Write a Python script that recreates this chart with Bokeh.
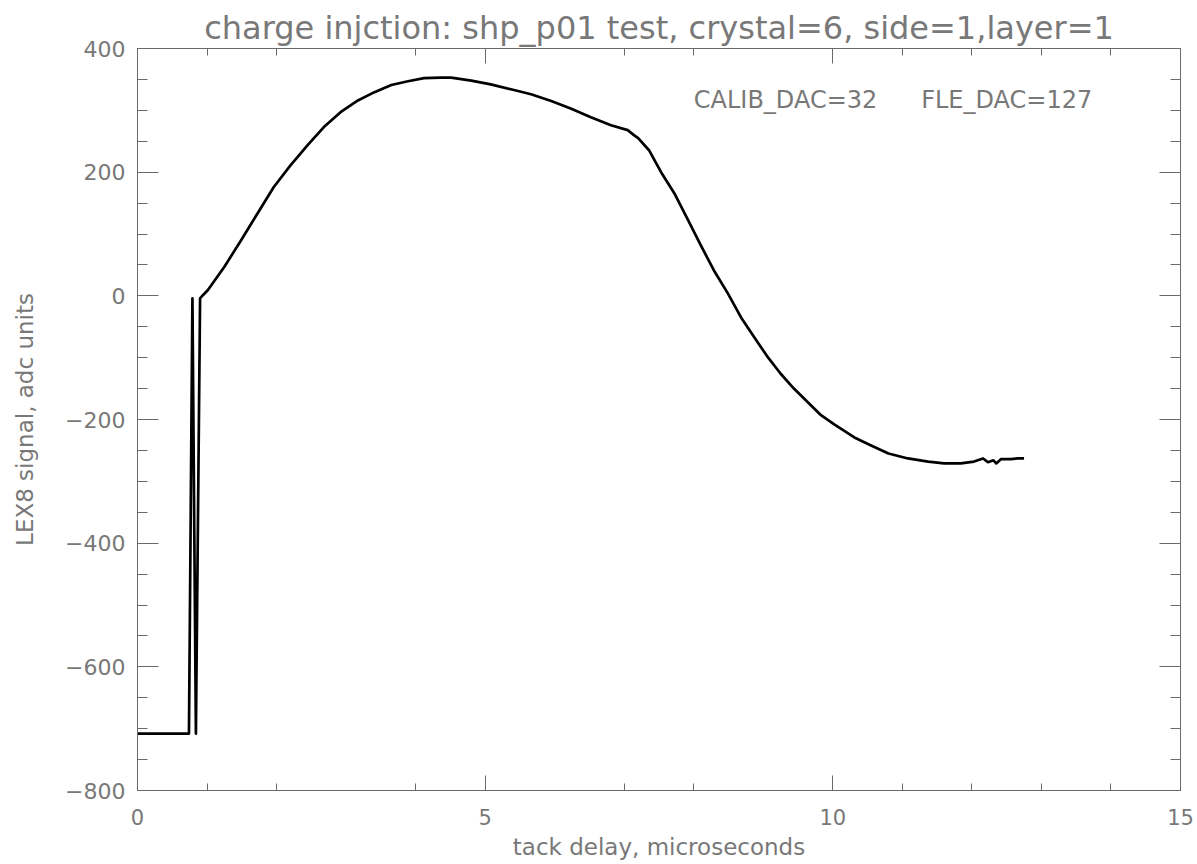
from bokeh.plotting import figure
from bokeh.models import Range1d, FixedTicker, LinearAxis, Label, CustomJSTickFormatter
from bokeh.embed import file_html
from bokeh.resources import INLINE

# ---- text ----
title_text = "charge injction: shp_p01 test, crystal=6, side=1,layer=1"
x_label = "tack delay, microseconds"
y_label = "LEX8 signal, adc units"
annot_calib = "CALIB_DAC=32"
annot_fle = "FLE_DAC=127"

# ---- data ----
delay_us = [0.00, 0.74, 0.79, 0.84, 0.90, 0.94, 1.01, 1.25, 1.49, 1.73, 1.96, 2.20,
            2.45, 2.68, 2.92, 3.17, 3.40, 3.65, 3.89, 4.12, 4.36, 4.51, 4.80, 5.08,
            5.37, 5.66, 5.95, 6.23, 6.52, 6.81, 7.05, 7.14, 7.20, 7.36, 7.53, 7.72,
            7.92, 8.10, 8.29, 8.49, 8.68, 8.87, 9.07, 9.25, 9.44, 9.64, 9.83, 10.02,
            10.31, 10.55, 10.80, 11.08, 11.37, 11.60, 11.84, 12.03, 12.16, 12.23,
            12.31, 12.35, 12.42, 12.56, 12.66, 12.75]
signal_adc = [-708, -708, -4, -708, -4, 1, 9, 47, 90, 134, 176, 211,
              244, 273, 297, 316, 329, 341, 347, 352, 353, 353, 348, 342,
              334, 326, 315, 303, 289, 276, 268, 260, 255, 235, 200, 166,
              122, 82, 41, 4, -35, -67, -100, -126, -150, -172, -193, -208,
              -229, -242, -255, -263, -268, -271, -271, -268, -263, -269,
              -266, -271, -264, -264, -263, -263]

x_major = [0, 5, 10, 15]
x_minor = [1, 2, 4, 7, 8, 11, 12, 13, 14]
y_major = [-800, -600, -400, -200, 0, 200, 400]
y_minor = [-750, -700, -650, -550, -500, -450, -350, -300, -250,
           -150, -100, -50, 50, 100, 150, 250, 300, 350]

FONT = "DejaVu Sans"
TXT = "#787878"
AX = "#6a6a6a"

p = figure(frame_width=1043, frame_height=742, output_backend="svg", toolbar_location=None,
           x_range=Range1d(0, 15), y_range=Range1d(-800, 400),
           min_border_left=137, min_border_right=14, min_border_top=48,
           min_border_bottom=60, background_fill_color="white",
           border_fill_color="white")

p.title.text = title_text
p.title.text_font = FONT
p.title.text_font_size = "32px"
p.title.text_font_style = "normal"
p.title.text_color = TXT
p.title.align = "center"
p.title.vertical_align = "top"
p.title.standoff = 0

p.outline_line_color = AX
p.outline_line_width = 1
p.xgrid.visible = False
p.ygrid.visible = False

def style_axis(ax, ticks, minor, tin, min_in):
    ax.ticker = FixedTicker(ticks=ticks, minor_ticks=minor)
    ax.axis_line_color = AX
    ax.major_tick_line_color = AX
    ax.minor_tick_line_color = AX
    ax.major_tick_in = tin
    ax.major_tick_out = 0
    ax.minor_tick_in = min_in
    ax.minor_tick_out = 0
    ax.major_label_text_font = FONT
    ax.major_label_text_color = TXT
    ax.axis_label_text_font = FONT
    ax.axis_label_text_color = TXT
    ax.axis_label_text_font_style = "normal"

xa = p.xaxis[0]
style_axis(xa, x_major, x_minor, 15, 7)
xa.major_label_text_font_size = "21px"
xa.major_label_standoff = 18
xa.axis_label = x_label
xa.axis_label_text_font_size = "23px"
xa.axis_label_standoff = 6

ya = p.yaxis[0]
style_axis(ya, y_major, y_minor, 21, 10)
ya.major_label_text_font_size = "22px"
ya.major_label_standoff = 12
ya.axis_label = y_label
ya.axis_label_text_font_size = "23px"
ya.axis_label_standoff = 24

blank = "return ''"
top = LinearAxis()
style_axis(top, x_major, x_minor, 15, 7)
top.formatter = CustomJSTickFormatter(code=blank)
top.major_label_text_font_size = "0px"
top.major_label_standoff = 0
p.add_layout(top, "above")

right = LinearAxis()
style_axis(right, y_major, y_minor, 21, 10)
right.formatter = CustomJSTickFormatter(code=blank)
right.major_label_text_font_size = "0px"
right.major_label_standoff = 0
p.add_layout(right, "right")

p.line(delay_us, signal_adc, line_color="black", line_width=2.7, line_join="round")

for txt, xpos in ((annot_calib, 8.0), (annot_fle, 11.27)):
    p.add_layout(Label(x=xpos, y=316, text=txt, text_font=FONT, text_font_size="24px",
                       text_color=TXT, text_baseline="middle", text_align="left"))

open("out.html", "w").write(file_html(p, INLINE))
